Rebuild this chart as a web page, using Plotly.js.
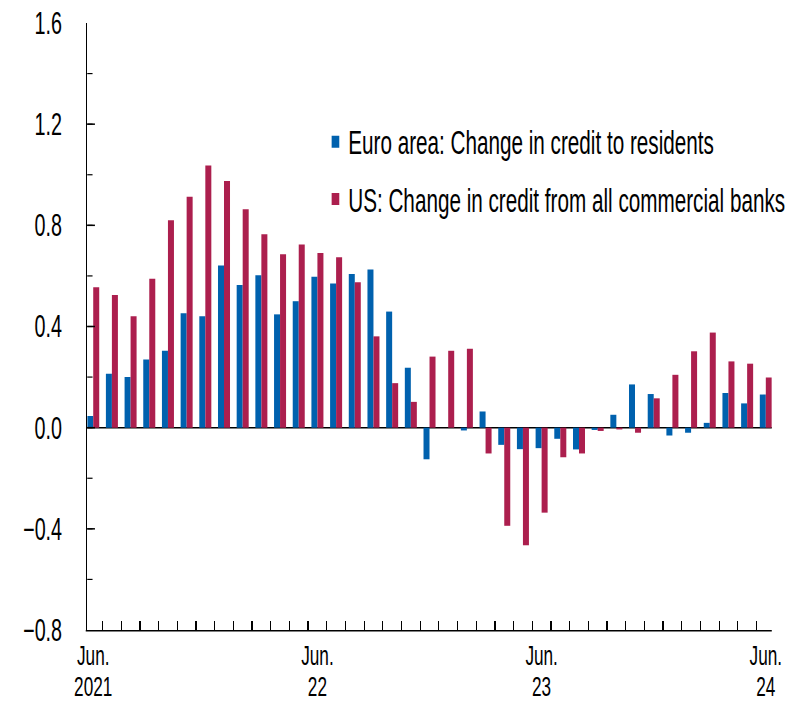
<!DOCTYPE html>
<html>
<head>
<meta charset="utf-8">
<script src="https://cdn.plot.ly/plotly-3.0.1.min.js"></script>
<style>
html,body{margin:0;padding:0;background:#fff;overflow:hidden;}
#wrap{width:810px;height:710px;overflow:hidden;position:relative;}
#chart{width:1272px;height:710px;transform-origin:0 0;transform:scaleX(0.636792);}
</style>
</head>
<body>
<div id="wrap"><div id="chart"></div></div>
<script>
// Months Jun 2021 .. Jun 2024
var months = ["2021-06","2021-07","2021-08","2021-09","2021-10","2021-11","2021-12",
  "2022-01","2022-02","2022-03","2022-04","2022-05","2022-06","2022-07","2022-08","2022-09","2022-10","2022-11","2022-12",
  "2023-01","2023-02","2023-03","2023-04","2023-05","2023-06","2023-07","2023-08","2023-09","2023-10","2023-11","2023-12",
  "2024-01","2024-02","2024-03","2024-04","2024-05","2024-06"];

var euroArea = [0.046,0.213,0.200,0.270,0.304,0.452,0.441,
  0.641,0.564,0.603,0.448,0.500,0.597,0.570,0.608,0.625,0.459,0.237,-0.125,
  0.000,-0.011,0.064,-0.068,-0.085,-0.081,-0.044,-0.086,-0.009,0.051,0.171,0.133,
  -0.031,-0.020,0.019,0.137,0.096,0.131];

var us = [0.555,0.525,0.441,0.589,0.820,0.913,1.037,
  0.975,0.864,0.765,0.686,0.724,0.691,0.674,0.575,0.361,0.176,0.102,0.281,
  0.304,0.312,-0.102,-0.388,-0.465,-0.336,-0.117,-0.102,-0.013,-0.007,-0.020,0.116,
  0.209,0.302,0.376,0.262,0.253,0.198];

var tickIdx = [0, 12, 24, 36];
var tickMonthLabels = ["Jun.", "Jun.", "Jun.", "Jun."];
var tickYearLabels = ["2021", "22", "23", "24"];
var yTicks = [-0.8, -0.4, 0.0, 0.4, 0.8, 1.2, 1.6];
var yTickLabels = ["\u22120.8", "\u22120.4", "0.0", "0.4", "0.8", "1.2", "1.6"];

var xIdx = months.map(function (m, i) { return i; });

// the chart is drawn wide and compressed horizontally to get the tall, narrow lettering
var SX = 810 / 1272;
var FONT = "Liberation Sans, Arial, sans-serif";

var traces = [
  {type: "bar", name: "Euro area: Change in credit to residents", x: xIdx, y: euroArea,
   text: months, hoverinfo: "text+y", textposition: "none",
   marker: {color: "#0061AE"}, legendgroup: "a"},
  {type: "bar", name: "US: Change in credit from all commercial banks", x: xIdx, y: us,
   text: months, hoverinfo: "text+y", textposition: "none",
   marker: {color: "#AC1F4E"}, legendgroup: "b"},
  // carrier for the second (year) label row; draws nothing
  {type: "scatter", mode: "none", x: tickIdx, y: tickIdx.map(function () { return 0; }),
   xaxis: "x2", yaxis: "y", showlegend: false, hoverinfo: "skip"}
];

var xRange = [-0.32, 36.32];

var layout = {
  width: 1272, height: 710,
  margin: {l: 137, r: 60, t: 23, b: 80, pad: 0, autoexpand: false},
  paper_bgcolor: "#fff", plot_bgcolor: "#fff",
  font: {family: FONT, size: 31, color: "#000"},
  barmode: "group", bargap: 0.357, bargroupgap: 0,
  showlegend: true,
  legend: {x: 0.344, xanchor: "left", y: 0.85, yanchor: "top",
           font: {family: FONT, size: 32.5, color: "#000"},
           bgcolor: "rgba(0,0,0,0)", traceorder: "grouped", tracegroupgap: 12},
  xaxis: {
    range: xRange, showgrid: false, zeroline: false,
    showline: true, linecolor: "#000", linewidth: 1.5,
    tickmode: "array", tickvals: tickIdx, ticktext: tickMonthLabels,
    ticks: "", ticklabelstandoff: 1,
    tickfont: {family: FONT, size: 27, color: "#000"},
    minor: {tickmode: "linear", tick0: 0.5, dtick: 1, ticks: "inside", ticklen: 9,
            tickcolor: "#000", tickwidth: 1.2 / SX, showgrid: false}
  },
  xaxis2: {
    overlaying: "x", anchor: "y", side: "bottom",
    range: xRange, showgrid: false, zeroline: false, showline: false,
    tickmode: "array", tickvals: tickIdx, ticktext: tickYearLabels,
    ticks: "", ticklabelstandoff: 38,
    tickfont: {family: FONT, size: 27, color: "#000"}
  },
  yaxis: {
    range: [-0.8, 1.6], showgrid: false,
    zeroline: true, zerolinecolor: "#000", zerolinewidth: 1.5,
    showline: true, linecolor: "#000", linewidth: 1.5 / SX,
    tickmode: "array", tickvals: yTicks, ticktext: yTickLabels,
    ticks: "inside", ticklen: 7.7 / SX, tickwidth: 1.5, tickcolor: "#000",
    ticklabelstandoff: 31,
    tickfont: {family: FONT, size: 31, color: "#000"},
    minor: {tickmode: "linear", tick0: 0, dtick: 0.2, ticks: "inside", ticklen: 5.3 / SX,
            tickcolor: "#000", tickwidth: 1.2, showgrid: false}
  }
};

Plotly.newPlot("chart", traces, layout, {displayModeBar: false, staticPlot: true});
</script>
</body>
</html>
